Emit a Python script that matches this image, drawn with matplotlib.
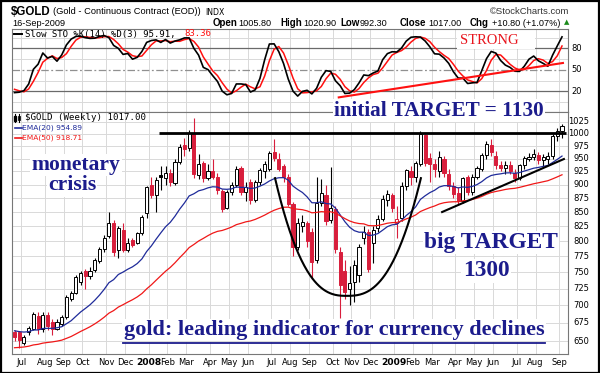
import numpy as np
import pandas as pd
import matplotlib
matplotlib.use("Agg")
import matplotlib.pyplot as plt
from matplotlib.lines import Line2D
from matplotlib.patches import Rectangle
from matplotlib.ticker import NullLocator

W, H = 600, 373

# ---------------- data (weekly $GOLD) ----------------
week_start = "2007-06-25"
opens = [662, 662, 648, 662, 667, 685, 667, 686, 676, 667,
         674, 683, 710, 719, 735, 752, 744, 754, 767, 787,
         808, 830, 786, 819, 786, 802, 797, 813, 848, 899,
         880, 918, 912, 921, 903, 944, 978, 972, 1002, 918,
         941, 912, 925, 915, 888, 858, 887, 900, 932, 887,
         905, 872, 904, 925, 930, 962, 950, 935, 915, 865,
         790, 826, 830, 815, 770, 866, 880, 836, 855, 783,
         752, 725, 735, 745, 805, 815, 797, 822, 838, 872,
         880, 830, 840, 897, 925, 914, 940, 998, 952, 940,
         925, 950, 920, 897, 885, 870, 915, 887, 914, 930,
         957, 978, 955, 937, 932, 937, 922, 912, 937, 950,
         953, 957, 947, 950, 955, 996, 1005.8]
highs = [665, 664, 658, 670, 690, 690, 690, 690, 680, 680,
         686, 716, 722, 746, 752, 755, 758, 772, 790, 810,
         850, 836, 825, 830, 805, 806, 815, 845, 898, 915,
         915, 935, 935, 930, 950, 980, 992, 1008, 1033, 958,
         945, 940, 950, 922, 892, 890, 905, 935, 936, 905,
         910, 908, 932, 945, 965, 990, 960, 940, 920, 868,
         840, 845, 835, 822, 915, 910, 900, 933, 860, 790,
         770, 760, 770, 795, 825, 820, 825, 845, 880, 890,
         885, 860, 905, 930, 935, 945, 1007, 1000, 960, 950,
         965, 955, 930, 905, 895, 915, 918, 920, 935, 960,
         985, 990, 965, 945, 945, 945, 930, 940, 955, 960,
         970, 962, 958, 962, 1000, 1012, 1020.9]
lows = [650, 640, 645, 658, 665, 660, 663, 665, 658, 665,
        670, 680, 706, 717, 730, 724, 740, 750, 765, 783,
        805, 775, 772, 783, 782, 790, 795, 810, 840, 875,
        850, 890, 900, 898, 900, 940, 955, 965, 912, 910,
        905, 908, 910, 882, 850, 855, 880, 895, 880, 870,
        865, 868, 900, 912, 925, 945, 925, 905, 860, 775,
        785, 815, 790, 740, 765, 860, 828, 830, 780, 682,
        710, 700, 705, 735, 795, 750, 765, 815, 835, 860,
        850, 805, 835, 890, 900, 905, 935, 935, 905, 915,
        915, 915, 890, 875, 865, 866, 880, 880, 910, 925,
        950, 955, 930, 925, 920, 920, 905, 908, 930, 945,
        948, 940, 935, 940, 950, 985, 992.3]
closes = [655, 652, 656, 668, 687, 666, 686, 670, 667, 676,
          683, 713, 719, 743, 749, 744, 752, 770, 787, 806,
          830, 783, 822, 786, 797, 794, 813, 842, 896, 880,
          909, 915, 922, 905, 944, 974, 970, 1001, 920, 940,
          912, 925, 915, 890, 856, 887, 900, 929, 887, 895,
          872, 904, 928, 940, 960, 952, 930, 915, 865, 790,
          830, 833, 800, 766, 866, 885, 835, 858, 787, 730,
          720, 733, 762, 790, 816, 755, 818, 837, 873, 882,
          857, 838, 897, 927, 914, 941, 1000, 942, 940, 930,
          953, 922, 897, 882, 869, 913, 887, 914, 932, 957,
          979, 962, 937, 932, 938, 925, 912, 937, 952, 954,
          958, 947, 953, 955, 996, 1007, 1017]
# 13 weeks before the first plotted bar (lookback for the stochastic only)
pre_highs = [672, 684, 690, 702, 698, 695, 684, 676, 668, 668, 678, 672, 662]
pre_lows = [655, 662, 672, 678, 672, 670, 664, 656, 650, 653, 658, 645, 648]
pre_closes = [665, 679, 681, 692, 680, 683, 670, 665, 659, 660, 670, 655, 656]
ema20_seed = 664.0
ema50_seed = 641.0
price_ticks = [650, 675, 700, 725, 750, 775, 800, 825, 850, 875,
               900, 925, 950, 975, 1000, 1025]
sto_levels = [20, 50, 80]
sto_grid = [5, 35, 65, 95]

# annotation geometry (data space)
resist_price, resist_from, resist_to = 1001, 30.6, 116.9
trend_i = [90.6, 116.4]
trend_p = [850, 949]
sto_trend_i = [68.7, 116.2]
sto_trend_v = [11.5, 59.5]
arc_left, arc_bottom, arc_right = 55.2, 70.4, 86.1
arc_top_p, arc_bot_p = 912, 714

# ---------------- derived series ----------------
n = len(closes)
dates = pd.date_range(week_start, periods=n, freq="7D")
idx = np.arange(n)
c = np.array(closes, float)

def ema(vals, span, seed):
    a = 2.0 / (span + 1)
    out = [seed]
    for v in vals[1:]:
        out.append(out[-1] + a * (v - out[-1]))
    return np.array(out)

ema20 = ema(c, 20, ema20_seed)
ema50 = ema(c, 50, ema50_seed)

npre = len(pre_closes)
sh = pd.Series(pre_highs + highs, dtype=float)
sl = pd.Series(pre_lows + lows, dtype=float)
sc = pd.Series(pre_closes + closes, dtype=float)
hh = sh.rolling(14, min_periods=1).max()
ll = sl.rolling(14, min_periods=1).min()
fast_k = 100 * (sc - ll) / (hh - ll)
slow_k = fast_k.rolling(3, min_periods=1).mean()
slow_d = slow_k.rolling(3, min_periods=1).mean()
slow_k = slow_k.values[npre:]
slow_d = slow_d.values[npre:]

# ---------------- figure ----------------
fig = plt.figure(figsize=(W / 100, H / 100), dpi=100)
fig.patch.set_facecolor("white")

def fx(x): return x / W
def fy(y): return 1 - y / H

L_, R_ = 12, 568
sto_top, sto_bot, pr_bot = 29, 112, 354
ax_s = fig.add_axes([fx(L_), fy(sto_bot), (R_ - L_) / W, (sto_bot - sto_top) / H])
ax_p = fig.add_axes([fx(L_), fy(pr_bot), (R_ - L_) / W, (pr_bot - sto_bot) / H])

xlim = (-0.53, 117.27)
grid_c = "#d9d9d9"
spine_c = "#777777"
red_c = "#d81e3c"
navy = "#1c1c8c"

# month ticks
mt, ml, mb = [], [], []
for i in range(1, n):
    if dates[i].month != dates[i - 1].month:
        mt.append(i + 0.4)
        if dates[i].month == 1:
            ml.append(str(dates[i].year)); mb.append(True)
        else:
            ml.append(dates[i].strftime("%b")); mb.append(False)

for ax in (ax_s, ax_p):
    ax.set_xlim(*xlim)
    for s in ax.spines.values():
        s.set_color(spine_c); s.set_linewidth(0.8)
    ax.set_xticks(mt)
    ax.tick_params(length=0)
    for t in mt:
        ax.axvline(t, color=grid_c, lw=0.7, zorder=0)

# ---- STO panel
ax_s.set_ylim(-8.9, 106.9)
ax_s.set_yticks([])
ax_s.set_xticklabels([])
for g in sto_grid:
    ax_s.axhline(g, color=grid_c, lw=0.7, zorder=0)
ax_s.axhline(80, color="#6a6a6a", lw=0.9, zorder=1)
ax_s.axhline(20, color="#6a6a6a", lw=0.9, zorder=1)
ax_s.axhline(50, color="#909090", lw=0.9, ls=(0, (6, 2, 1.5, 2)), zorder=1)
ax_s.add_patch(Rectangle((93.75, 78.3), 16.55, 30, facecolor="white",
                         edgecolor="none", zorder=2))
ax_s.plot(idx, slow_d, color="#ff1010", lw=1.1, zorder=3)
ax_s.plot(idx, slow_k, color="black", lw=1.2, zorder=4)
ax_s.plot(sto_trend_i, sto_trend_v, color="#ff1010", lw=1.5, zorder=5)
for lv in sto_levels:
    ax_s.text(1 + 3 / (R_ - L_), lv, f"{lv}", transform=ax_s.get_yaxis_transform(),
              ha="left", va="center", fontsize=6)
fig.text(fx(489), fy(40), "STRONG", family="Liberation Serif", fontsize=10.5,
         color="#e8141c", ha="center", va="center", zorder=10)

# ---- price panel
ax_p.set_yscale("log")
ax_p.set_ylim(632.7, 1046.5)
ax_p.yaxis.set_minor_locator(NullLocator())
ax_p.set_yticks(price_ticks)
ax_p.set_yticklabels([])
for p in price_ticks:
    ax_p.axhline(p, color=grid_c, lw=0.7, zorder=0)
    ax_p.text(1 + 21 / (R_ - L_), p, f"{p}", transform=ax_p.get_yaxis_transform(),
              ha="right", va="center", fontsize=6)
ax_p.set_xticklabels(ml, fontsize=6)
ax_p.tick_params(axis="x", pad=3)
for lab, b in zip(ax_p.get_xticklabels(), mb):
    if b:
        lab.set_fontweight("bold"); lab.set_fontsize(6.6)

# candles
prev = [opens[0]] + closes[:-1]
for i in range(n):
    o, h, l, cl = opens[i], highs[i], lows[i], closes[i]
    ec = red_c if cl < prev[i] else "black"
    fc = "white" if cl >= o else ec
    ax_p.vlines(i, l, h, color=ec, lw=0.8, zorder=3)
    lo, hi = min(o, cl), max(o, cl)
    if hi - lo < 1.5:
        hi = lo + 1.5
    ax_p.bar(i, hi - lo, bottom=lo, width=0.66, facecolor=fc, edgecolor=ec,
             linewidth=0.7, zorder=4)

ax_p.plot(idx, ema20, color="#1f2b9a", lw=0.9, zorder=5)
ax_p.plot(idx, ema50, color="#f01818", lw=0.9, zorder=5)

# annotations
ax_p.hlines(resist_price, resist_from, resist_to, color="black", lw=2.0, zorder=6)
ax_p.plot(trend_i, trend_p, color="black", lw=1.5, zorder=6)
ai = np.linspace(arc_left, arc_right, 200)
half = np.where(ai < arc_bottom, arc_bottom - arc_left, arc_right - arc_bottom)
frac = (np.abs(ai - arc_bottom) / half) ** 2.6
arc_p = np.exp(np.log(arc_bot_p) + (np.log(arc_top_p) - np.log(arc_bot_p)) * frac)
ax_p.plot(ai, arc_p, color="black", lw=1.5, zorder=6)

serif = "Liberation Serif"
bb = dict(facecolor="white", edgecolor="none", pad=1.0)
def big(x, y, s, size):
    fig.text(fx(x), fy(y), s, family=serif, fontweight="bold", fontsize=size,
             color=navy, ha="center", va="baseline", zorder=10, bbox=bb)
big(439, 115.5, "initial TARGET = 1130", 15.3)
big(76, 170, "monetary", 15.6)
big(72, 190.5, "crisis", 15.6)
big(491, 248, "big TARGET", 16.8)
big(486, 276.5, "1300", 16.8)
big(334, 335, "gold: leading indicator for currency declines", 16.0)
fig.add_artist(Line2D([fx(123), fx(545)], [fy(343), fy(343)], color=navy, lw=1.3))

# legends
mono = "DejaVu Sans Mono"
fig.add_artist(Line2D([fx(14), fx(22)], [fy(34), fy(34)], color="black", lw=1.4))
fig.text(fx(25), fy(34), "Slow STO %K(14) %D(3) 95.91,", family=mono, fontsize=6.5, va="center")
fig.text(fx(184), fy(34), "83.36", family=mono, fontsize=6.5, va="center", color="#ff1010")

fig.add_artist(Line2D([fx(15), fx(15)], [fy(114), fy(122)], color="black", lw=0.8))
fig.add_artist(Rectangle((fx(14), fy(121)), 2 / W, 5 / H, color="black"))
fig.add_artist(Line2D([fx(19), fx(19)], [fy(114), fy(122)], color="black", lw=0.8))
fig.add_artist(Rectangle((fx(18), fy(120)), 2 / W, 4 / H, facecolor="white", edgecolor="black", lw=0.6))
fig.text(fx(25), fy(118), "$GOLD (Weekly) 1017.00", family=mono, fontsize=6.6, va="center")
fig.add_artist(Line2D([fx(15), fx(22)], [fy(127.5), fy(127.5)], color="#1f2b9a", lw=1.2))
fig.text(fx(22), fy(127.5), "EMA(20) 954.89", fontsize=5.4, va="center", color="#1f2b9a")
fig.add_artist(Line2D([fx(15), fx(22)], [fy(138), fy(138)], color="#f01818", lw=1.2))
fig.text(fx(22), fy(138), "EMA(50) 918.71", fontsize=5.4, va="center", color="#f01818")

# header
sans = "Liberation Sans"
fig.text(fx(11), fy(12), "$GOLD", family=sans, fontsize=8.3, fontweight="bold", va="center")
fig.text(fx(53), fy(12), "(Gold - Continuous Contract (EOD))", family=sans, fontsize=6.7, va="center")
fig.text(fx(205), fy(12.5), "INDX", fontsize=5.6, va="center")
fig.text(fx(12), fy(23), "16-Sep-2009", family=sans, fontsize=6.6, va="center")
fig.text(fx(490), fy(12), "\u00a9StockCharts.com", family=sans, fontsize=6.8, va="center", color="#333333")
hdr = [(213, "Open", True), (238, "1005.80", False), (280, "High", True),
       (303, "1020.90", False), (340, "Low", True), (360, "992.30", False),
       (400, "Close", True), (428, "1017.00", False), (470, "Chg", True),
       (492, "+10.80 (+1.07%)", False)]
for x, s, b in hdr:
    fig.text(fx(x), fy(23), s, family=sans, fontsize=7.0 if b else 6.6,
             fontweight="bold" if b else "normal", va="center")
fig.text(fx(564), fy(22.5), "\u25b2", fontsize=5, va="center", color="#1a8a1a")

fig.add_artist(Rectangle((0.5 / W, 0.5 / H), 1 - 1.5 / W, 1 - 1.5 / H, fill=False,
                         edgecolor="black", lw=1.6, transform=fig.transFigure))

fig.savefig("out.png", dpi=100, facecolor="white")
